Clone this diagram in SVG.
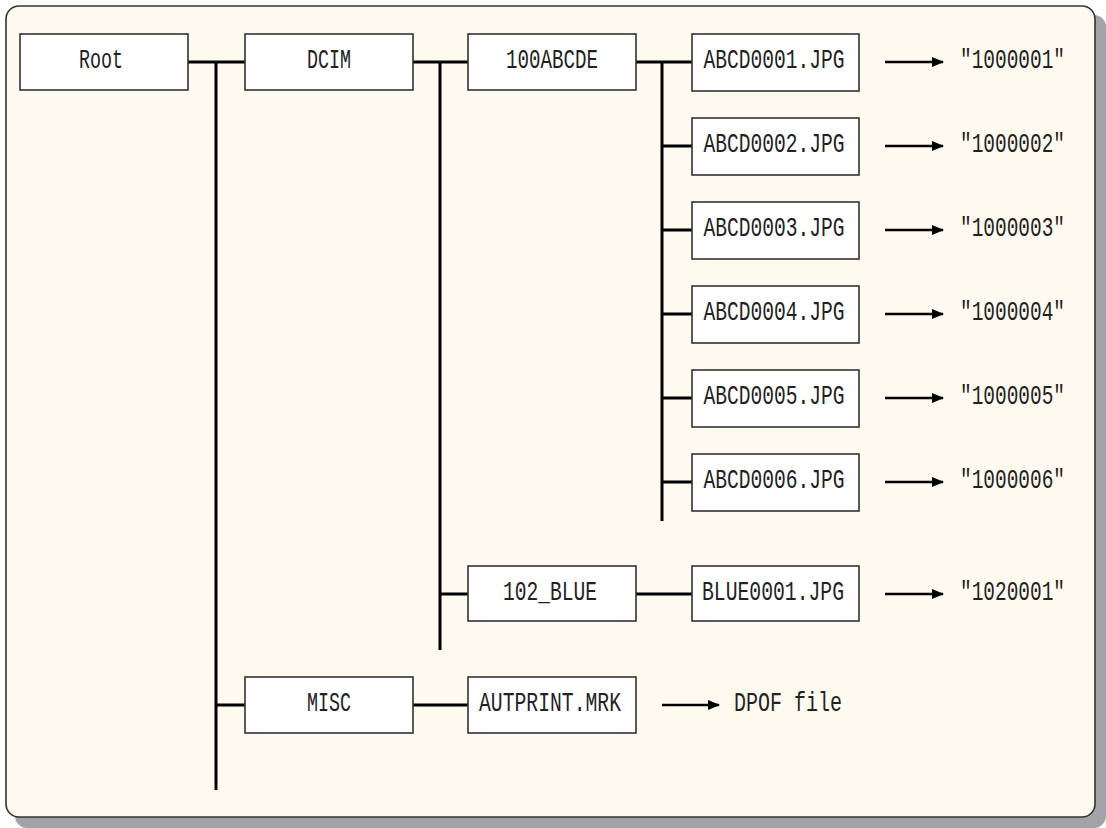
<svg xmlns="http://www.w3.org/2000/svg" width="1106" height="828" viewBox="0 0 1106 828">
<defs>
<style>
.box{fill:#fff;stroke:#333;stroke-width:1.6}
.t{font-family:"Liberation Mono","DejaVu Sans Mono",monospace;font-size:27px;fill:#222;text-anchor:middle}
.q{font-family:"Liberation Mono","DejaVu Sans Mono",monospace;font-size:27px;fill:#222}
.c{stroke:#000;stroke-width:3;fill:none}
.a{stroke:#000;stroke-width:2.5;fill:none;marker-end:url(#ah)}
</style>
<marker id="ah" viewBox="0 0 12 10" refX="11" refY="5" markerWidth="12" markerHeight="10" markerUnits="userSpaceOnUse" orient="auto">
<path d="M0,0 L12,5 L0,10 Z" fill="#000"/>
</marker>
</defs>
<rect x="15" y="15" width="1091" height="813" rx="12" fill="#a3a2a8"/>
<rect x="6" y="6" width="1089" height="811" rx="13" fill="#fffaef" stroke="#333" stroke-width="1.6"/>
<g id="connectors">
<line class="c" x1="188" y1="62" x2="245" y2="62"/>
<line class="c" x1="216" y1="62" x2="216" y2="790"/>
<line class="c" x1="216" y1="705" x2="245" y2="705"/>
<line class="c" x1="413" y1="62" x2="468" y2="62"/>
<line class="c" x1="440" y1="62" x2="440" y2="650"/>
<line class="c" x1="440" y1="594" x2="468" y2="594"/>
<line class="c" x1="636" y1="62" x2="692" y2="62"/>
<line class="c" x1="662" y1="62" x2="662" y2="521"/>
<line class="c" x1="662" y1="146" x2="692" y2="146"/>
<line class="c" x1="662" y1="230" x2="692" y2="230"/>
<line class="c" x1="662" y1="314" x2="692" y2="314"/>
<line class="c" x1="662" y1="398" x2="692" y2="398"/>
<line class="c" x1="662" y1="482" x2="692" y2="482"/>
<line class="c" x1="636" y1="594" x2="692" y2="594"/>
<line class="c" x1="413" y1="705" x2="468" y2="705"/>
<line class="a" x1="885" y1="62" x2="943" y2="62"/>
<line class="a" x1="885" y1="146" x2="943" y2="146"/>
<line class="a" x1="885" y1="230" x2="943" y2="230"/>
<line class="a" x1="885" y1="314" x2="943" y2="314"/>
<line class="a" x1="885" y1="398" x2="943" y2="398"/>
<line class="a" x1="885" y1="482" x2="943" y2="482"/>
<line class="a" x1="885" y1="594" x2="943" y2="594"/>
<line class="a" x1="662" y1="705" x2="719" y2="705"/>
</g>
<g id="root"><rect class="box" x="20" y="34" width="168" height="56"/><text class="t" x="101" y="68" textLength="44" lengthAdjust="spacingAndGlyphs">Root</text></g>
<g id="dcim"><rect class="box" x="245" y="34" width="168" height="56"/><text class="t" x="329" y="68" textLength="44" lengthAdjust="spacingAndGlyphs">DCIM</text></g>
<g id="d100abcde"><rect class="box" x="468" y="34" width="168" height="56"/><text class="t" x="552" y="68" textLength="92" lengthAdjust="spacingAndGlyphs">100ABCDE</text></g>
<g id="abcd0001"><rect class="box" x="692" y="34" width="167" height="57"/><text class="t" x="774" y="68" textLength="141" lengthAdjust="spacingAndGlyphs">ABCD0001.JPG</text></g>
<g id="abcd0002"><rect class="box" x="692" y="118" width="167" height="57"/><text class="t" x="774" y="152" textLength="141" lengthAdjust="spacingAndGlyphs">ABCD0002.JPG</text></g>
<g id="abcd0003"><rect class="box" x="692" y="202" width="167" height="57"/><text class="t" x="774" y="236" textLength="141" lengthAdjust="spacingAndGlyphs">ABCD0003.JPG</text></g>
<g id="abcd0004"><rect class="box" x="692" y="286" width="167" height="57"/><text class="t" x="774" y="320" textLength="141" lengthAdjust="spacingAndGlyphs">ABCD0004.JPG</text></g>
<g id="abcd0005"><rect class="box" x="692" y="370" width="167" height="57"/><text class="t" x="774" y="404" textLength="141" lengthAdjust="spacingAndGlyphs">ABCD0005.JPG</text></g>
<g id="abcd0006"><rect class="box" x="692" y="454" width="167" height="57"/><text class="t" x="774" y="488" textLength="141" lengthAdjust="spacingAndGlyphs">ABCD0006.JPG</text></g>
<g id="d102blue"><rect class="box" x="468" y="566" width="168" height="55"/><text class="t" x="550" y="600" textLength="94" lengthAdjust="spacingAndGlyphs">102_BLUE</text></g>
<g id="blue0001"><rect class="box" x="692" y="566" width="167" height="55"/><text class="t" x="773" y="600" textLength="142" lengthAdjust="spacingAndGlyphs">BLUE0001.JPG</text></g>
<g id="misc"><rect class="box" x="245" y="677" width="168" height="56"/><text class="t" x="329" y="711" textLength="44" lengthAdjust="spacingAndGlyphs">MISC</text></g>
<g id="autprint"><rect class="box" x="468" y="677" width="168" height="56"/><text class="t" x="550" y="711" textLength="142" lengthAdjust="spacingAndGlyphs">AUTPRINT.MRK</text></g>
<g id="labels">
<text class="q" x="960" y="68" textLength="105" lengthAdjust="spacingAndGlyphs">″1000001″</text>
<text class="q" x="960" y="152" textLength="105" lengthAdjust="spacingAndGlyphs">″1000002″</text>
<text class="q" x="960" y="236" textLength="105" lengthAdjust="spacingAndGlyphs">″1000003″</text>
<text class="q" x="960" y="320" textLength="105" lengthAdjust="spacingAndGlyphs">″1000004″</text>
<text class="q" x="960" y="404" textLength="105" lengthAdjust="spacingAndGlyphs">″1000005″</text>
<text class="q" x="960" y="488" textLength="105" lengthAdjust="spacingAndGlyphs">″1000006″</text>
<text class="q" x="960" y="600" textLength="105" lengthAdjust="spacingAndGlyphs">″1020001″</text>
<text class="q" x="734" y="711" textLength="108" lengthAdjust="spacingAndGlyphs">DPOF file</text>
</g>
</svg>
